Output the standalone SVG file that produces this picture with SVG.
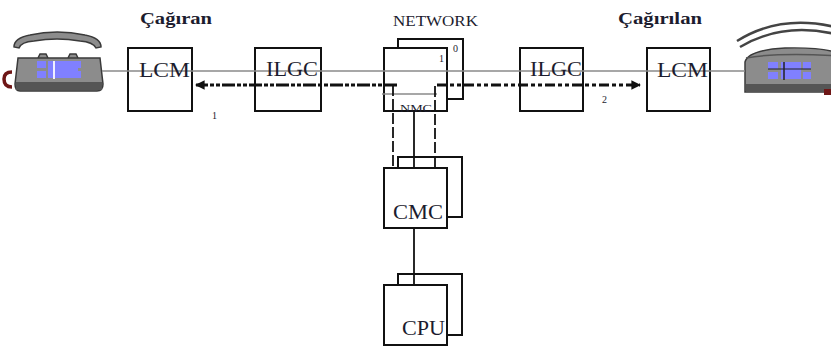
<svg xmlns="http://www.w3.org/2000/svg" width="831" height="349" viewBox="0 0 831 349">
  <style>
    .box { fill: #ffffff; stroke: #111; stroke-width: 2; }
    .back { fill: none; stroke: #111; stroke-width: 2; }
    .lbl { font-family: "Liberation Serif", "Times New Roman", serif; fill: #1c1c2e; }
    .big { font-size: 20px; }
    .title { font-size: 16px; font-weight: bold; }
    .small { font-size: 10px; }
    .trunk { stroke: #8a8a8a; stroke-width: 1.6; fill: none; }
    .sig { stroke: #111; stroke-width: 3; fill: none; }
    .bus { stroke: #111; stroke-width: 1.8; fill: none; }
    .busd { stroke: #111; stroke-width: 1.8; fill: none; stroke-dasharray: 11 3; }
    .body { fill: #8c8c8c; stroke: #3a3a3a; stroke-width: 1.5; }
    .key { fill: #8080ff; }
  </style>
  <defs>
    <marker id="head" viewBox="0 0 10 10" refX="9" refY="5" markerWidth="3.2" markerHeight="3.2" orient="auto-start-reverse" markerUnits="strokeWidth">
      <path d="M0,0 L10,5 L0,10 Z" fill="#111"/>
    </marker>
  </defs>

  <!-- caller telephone -->
  <g id="phone-caller">
    <path class="body" d="M14,47 Q14,38 30,35 Q57,29 85,35 Q101,38 101,47 L96,48 Q93,42 80,41 Q57,37 34,41 Q21,42 19,48 Z"/>
    <path d="M12,72 Q4,72 4,79 Q4,87 12,87" fill="none" stroke="#6e1616" stroke-width="3.5"/>
    <path class="body" d="M38,58 L40,54 L46,54 L48,58 M68,58 L70,54 L76,54 L78,58"/>
    <path class="body" d="M18,58 L100,58 L103,84 Q103,91 97,91 L20,91 Q15,91 15,84 Z"/>
    <rect x="16" y="82" width="86" height="8" fill="#555"/>
    <rect class="key" x="37" y="61" width="9" height="7"/>
    <rect class="key" x="37" y="71" width="9" height="7"/>
    <rect class="key" x="48" y="61" width="30" height="17"/>
    <rect class="key" x="73" y="61" width="8" height="7"/>
    <rect class="key" x="73" y="71" width="8" height="7"/>
    <line x1="54" y1="61" x2="54" y2="79" stroke="#eef" stroke-width="2"/>
  </g>

  <!-- called telephone (ringing) -->
  <g id="phone-called">
    <path d="M737,41 Q780,14 835,27" fill="none" stroke="#444" stroke-width="2.5"/>
    <path d="M740,47 Q782,22 835,34" fill="none" stroke="#444" stroke-width="2.5"/>
    <path class="body" d="M745,92 L745,62 Q748,50 785,48 Q825,47 840,54 L840,92 Z"/>
    <path d="M746,58 Q780,52 840,56" fill="none" stroke="#555" stroke-width="1.5"/>
    <rect x="746" y="84" width="90" height="8" fill="#555"/>
    <rect x="824" y="89" width="8" height="6" fill="#6e1616"/>
    <rect class="key" x="768" y="62" width="10" height="7"/>
    <rect class="key" x="768" y="72" width="10" height="7"/>
    <rect class="key" x="781" y="62" width="20" height="17"/>
    <rect class="key" x="803" y="62" width="8" height="7"/>
    <rect class="key" x="803" y="72" width="8" height="7"/>
    <line x1="784" y1="62" x2="784" y2="80" stroke="#222" stroke-width="1.5"/>
    <line x1="768" y1="69" x2="811" y2="69" stroke="#222" stroke-width="1"/>
  </g>

  <!-- modules -->
  <g id="lcm-caller">
    <rect class="box" x="128" y="48" width="64" height="63"/>
  </g>
  <g id="ilgc-caller">
    <rect class="box" x="255" y="48" width="66" height="63"/>
  </g>
  <g id="network">
    <rect class="back" x="398" y="39" width="65" height="60"/>
    <rect class="box" x="384" y="48" width="63" height="63"/>
  </g>
  <g id="ilgc-called">
    <rect class="box" x="520" y="48" width="63" height="63"/>
  </g>
  <g id="lcm-called">
    <rect class="box" x="647" y="48" width="63" height="63"/>
  </g>
  <g id="cmc">
    <rect class="back" x="398" y="157" width="64" height="60"/>
    <rect class="box" x="384" y="168" width="63" height="60"/>
  </g>
  <g id="cpu">
    <rect class="back" x="398" y="274" width="64" height="61"/>
    <rect class="box" x="384" y="285" width="63" height="60"/>
  </g>

  <!-- connectors -->
  <g id="connectors">
    <line class="trunk" x1="102" y1="71" x2="745" y2="71"/>
    <line class="trunk" x1="382" y1="94" x2="437" y2="94"/>
    <line class="sig" x1="397" y1="85" x2="196" y2="85" stroke-dasharray="13 2 4 2 4 2" marker-end="url(#head)"/>
    <line class="sig" x1="437" y1="85" x2="640" y2="85" stroke-width="2.6" stroke-dasharray="10 3 4 3 4 3" marker-end="url(#head)"/>
    <line class="busd" x1="393" y1="85" x2="393" y2="168"/>
    <line class="busd" x1="435" y1="86" x2="435" y2="168"/>
    <line class="bus" x1="414" y1="111" x2="414" y2="168"/>
    <line class="bus" x1="414" y1="228" x2="414" y2="285"/>
  </g>

  <!-- labels -->
  <g id="labels">
    <text class="lbl title" x="140" y="24" textLength="72" lengthAdjust="spacingAndGlyphs">Çağıran</text>
    <text class="lbl title" x="618" y="24" textLength="84" lengthAdjust="spacingAndGlyphs">Çağırılan</text>
    <text class="lbl" x="393" y="26" font-size="15" textLength="85" lengthAdjust="spacingAndGlyphs">NETWORK</text>
    <text class="lbl big" x="139" y="77" textLength="51" lengthAdjust="spacingAndGlyphs">LCM</text>
    <text class="lbl big" x="266" y="76" textLength="52" lengthAdjust="spacingAndGlyphs">ILGC</text>
    <text class="lbl big" x="530" y="76" textLength="52" lengthAdjust="spacingAndGlyphs">ILGC</text>
    <text class="lbl big" x="657" y="77" textLength="51" lengthAdjust="spacingAndGlyphs">LCM</text>
    <text class="lbl big" x="393" y="219" textLength="50" lengthAdjust="spacingAndGlyphs">CMC</text>
    <text class="lbl big" x="402" y="335" textLength="43" lengthAdjust="spacingAndGlyphs">CPU</text>
    <text class="lbl small" x="439" y="62" fill="#4a5a9a">1</text>
    <text class="lbl small" x="453" y="52" fill="#6a4a8a">0</text>
    <text class="lbl small" x="400" y="112" fill="#5a4a8a" textLength="32" lengthAdjust="spacingAndGlyphs">NMC</text>
    <text class="lbl small" x="212" y="119" fill="#a04848">1</text>
    <text class="lbl small" x="602" y="103" fill="#6a5a40">2</text>
  </g>
</svg>
